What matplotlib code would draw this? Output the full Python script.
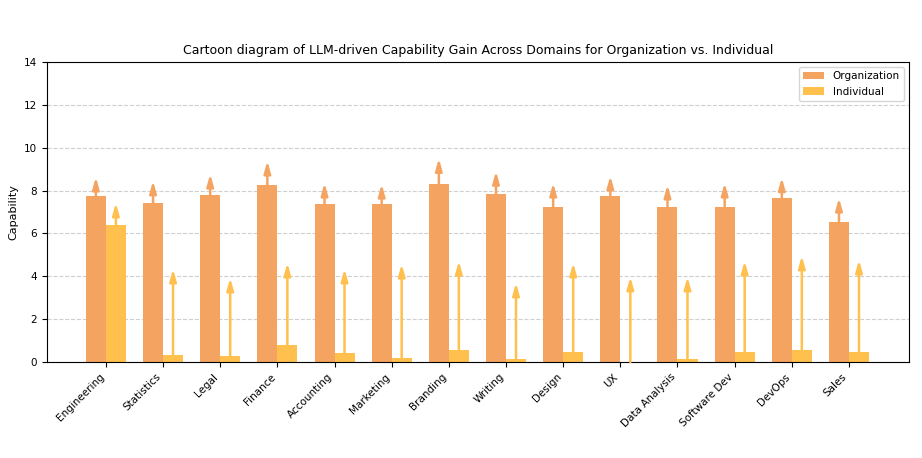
import matplotlib.pyplot as plt
import numpy as np

domains = ['Engineering', 'Statistics', 'Legal', 'Finance', 'Accounting', 'Marketing', 'Branding',
           'Writing', 'Design', 'UX', 'Data Analysis', 'Software Dev', 'DevOps', 'Sales']
org = [7.75, 7.42, 7.8, 8.26, 7.37, 7.37, 8.3, 7.84, 7.23, 7.75, 7.23, 7.23, 7.65, 6.53]
org_gain = [8.63, 8.45, 8.77, 9.38, 8.35, 8.3, 9.5, 8.9, 8.35, 8.68, 8.26, 8.35, 8.6, 7.65]
ind = [6.4, 0.35, 0.28, 0.78, 0.42, 0.2, 0.55, 0.15, 0.45, 0.0, 0.12, 0.45, 0.55, 0.45]
ind_gain = [7.42, 4.34, 3.92, 4.62, 4.34, 4.57, 4.71, 3.69, 4.62, 3.97, 3.97, 4.71, 4.95, 4.76]

c_org = '#F4A460'
c_ind = '#FFC04D'

fig = plt.figure(figsize=(9.22, 4.58), dpi=100)
ax = fig.add_axes([47/922, 1-362/458, 862/922, 300/458])
x = np.arange(len(domains))
w = 0.35
ax.bar(x - w/2, org, w, color=c_org, label='Organization')
ax.bar(x + w/2, ind, w, color=c_ind, label='Individual')

style = '-|>,head_width=0.2,head_length=0.7'
for i in range(len(domains)):
    ax.annotate('', xy=(x[i] - w/2, org_gain[i]), xytext=(x[i] - w/2, org[i]),
                arrowprops=dict(arrowstyle=style, color=c_org, lw=1.8, shrinkA=0, shrinkB=0))
    ax.annotate('', xy=(x[i] + w/2, ind_gain[i]), xytext=(x[i] + w/2, ind[i]),
                arrowprops=dict(arrowstyle=style, color=c_ind, lw=1.8, shrinkA=0, shrinkB=0))

ax.set_ylim(0, 14)
ax.set_xlim(-1.03, 14.05)
ax.set_ylabel('Capability', fontsize=8)
ax.set_title('Cartoon diagram of LLM-driven Capability Gain Across Domains for Organization vs. Individual', fontsize=9)
ax.set_xticks(x)
ax.set_xticklabels(domains, rotation=45, ha='right', fontsize=7.5)
ax.tick_params(axis='y', labelsize=7.5)
ax.yaxis.grid(True, linestyle='--', alpha=0.6)
ax.set_axisbelow(True)
ax.legend(loc='upper right', fontsize=7.5)
fig.savefig('out.png', dpi=100)
